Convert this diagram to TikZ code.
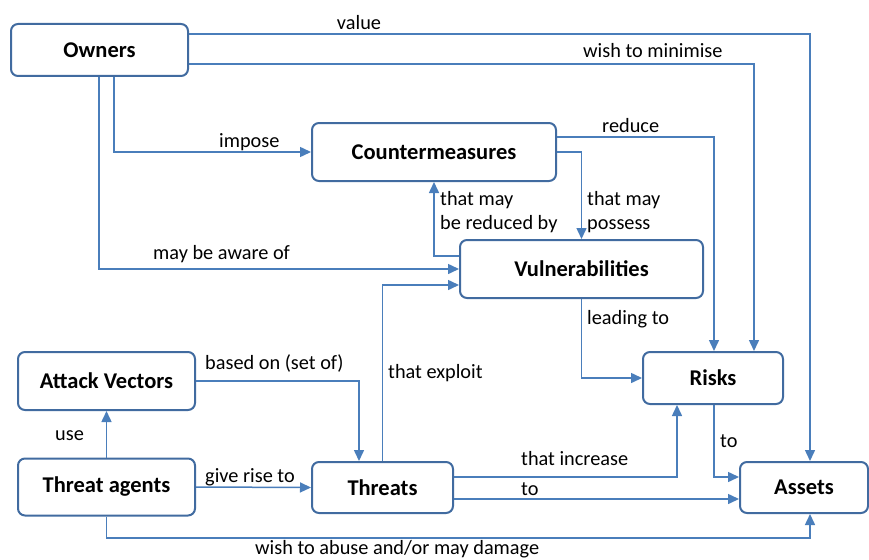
\documentclass[tikz,border=0pt]{standalone}
\usepackage{fontspec}
\setmainfont{Carlito}
\usetikzlibrary{arrows.meta}
\definecolor{boxc}{RGB}{65,107,160}
\definecolor{linec}{RGB}{74,126,187}
\tikzset{
  box/.style={draw=boxc, line width=2pt, rounded corners=7pt, fill=white,
    font=\fontsize{22.5}{25}\selectfont\bfseries, inner sep=0pt},
  conn/.style={draw=linec, line width=1.5pt, -{Triangle[length=11pt,width=10pt]}},
  lab/.style={font=\fontsize{20.3}{23}\selectfont, inner sep=0pt, anchor=base west},
}
\begin{document}
\begin{tikzpicture}[x=1pt,y=-1pt]
\useasboundingbox (0,0) rectangle (869,559);
% nodes
\node[box, minimum width=177pt, minimum height=52pt] (own) at (99.5,50) {Owners};
\node[box, minimum width=244pt, minimum height=58pt] (cm) at (434,152) {Countermeasures};
\node[box, minimum width=243pt, minimum height=58pt] (vul) at (581.5,269) {Vulnerabilities};
\node[box, minimum width=140pt, minimum height=52pt] (risk) at (713,378) {Risks};
\node[box, minimum width=128pt, minimum height=51pt] (ast) at (804,487.5) {Assets};
\node[box, minimum width=141pt, minimum height=51pt] (thr) at (382.5,487.5) {Threats};
\node[box, minimum width=177pt, minimum height=58pt] (av) at (106.5,381) {Attack Vectors};
\node[box, minimum width=177pt, minimum height=57pt] (ta) at (106.5,487) {Threat agents};
% connectors
\draw[conn] (own.east |- 0,34) -| ([xshift=6pt]ast.north);
\draw[conn] (own.east |- 0,64) -| ([xshift=41pt]risk.north);
\draw[conn] ([xshift=14.5pt]own.south) |- (cm.west);
\draw[conn] ([xshift=-0.5pt]own.south) |- (vul.west);
\draw[conn] (cm.east |- 0,137) -| ([xshift=1pt]risk.north);
\draw[conn] (cm.east) -| (vul.north);
\draw[conn] (vul.west |- 0,256) -| (cm.south);
\draw[conn] (vul.south) |- (risk.west);
\draw[conn] (thr.north) |- ([yshift=-16pt]vul.west);
\draw[conn] ([xshift=1pt]risk.south) |- ([yshift=10.5pt]ast.west);
\draw[conn] ([yshift=10.5pt]thr.east) -| ([xshift=-36pt]risk.south);
\draw[conn] ([yshift=-11.5pt]thr.east) -- ([yshift=-11.5pt]ast.west);
\draw[conn] (ta.north) -- (av.south);
\draw[conn] (av.east) -| ([xshift=-23.5pt]thr.north);
\draw[conn] (ta.east) -- (thr.west);
\coordinate (abuse) at (ta.south |- 0,538);
\draw[conn] (ta.south) -- (abuse) -| ([xshift=6pt]ast.south);
% labels
\node[lab, anchor=base] (l1) at (359,30) {value};
\node[lab] (l2) at (583,58) {wish to minimise};
\node[lab] (l3) at (219,147) {impose};
\node[lab] (l4) at (602,132) {reduce};
\node[lab] (l5) at (440,205) {that may};
\node[lab] (l6) at (440,229) {be reduced by};
\node[lab] (l7) at (587,205) {that may};
\node[lab] (l8) at (587,229) {possess};
\node[lab] (l9) at (153,259) {may be aware of};
\node[lab] (l10) at (587,324) {leading to};
\node[lab] (l11) at (388,378) {that exploit};
\node[lab] (l12) at (205,369) {based on (set of)};
\node[lab] (l13) at (55,440) {use};
\node[lab] (l14) at (205,482) {give rise to};
\node[lab] (l15) at (521,465) {that increase};
\node[lab] (l16) at (521,495) {to};
\node[lab] (l17) at (720,447) {to};
\node[lab] (l18) at (255,554) {wish to abuse and/or may damage};
\end{tikzpicture}
\end{document}
